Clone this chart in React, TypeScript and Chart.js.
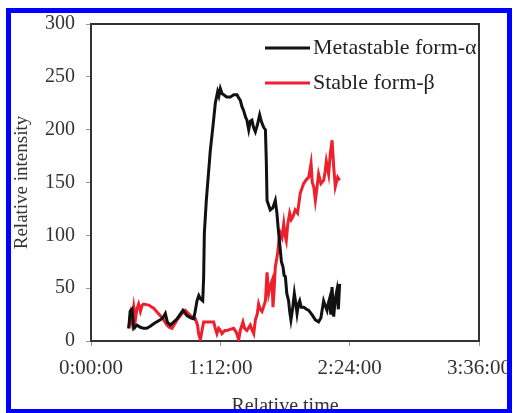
import React, { useEffect, useRef } from "react";
import { Chart, registerables } from "chart.js";

Chart.register(...registerables);

// Time in minutes, values in relative intensity
const alphaTime = [21.0, 21.8, 22.8, 23.8, 25.6, 27.5, 29.3, 31.0, 33.0, 35.5, 38.6, 40.0, 41.4, 42.5, 44.2, 46.0, 47.9, 49.5, 51.2, 53.4, 55.5, 57.2, 58.2, 59.0, 60.0, 60.9, 62.2, 62.7, 63.1, 64.2, 66.4, 68.0, 69.2, 70.5, 71.2, 72.0, 73.0, 73.9, 75.5, 77.6, 79.5, 81.3, 82.2, 83.1, 84.0, 85.0, 86.0, 86.8, 87.8, 88.7, 89.6, 90.5, 91.5, 92.7, 93.9, 94.5, 95.2, 96.2, 97.1, 97.6, 98.0, 99.0, 99.8, 101.2, 102.6, 103.5, 104.3, 105.4, 106.0, 106.9, 107.5, 108.2, 109.0, 110.0, 110.6, 111.3, 112.2, 113.2, 113.8, 114.7, 115.5, 116.2, 117.0, 118.4, 120.0, 121.2, 123.0, 124.9, 126.7, 128.0, 129.5, 130.5, 131.4, 132.0, 132.8, 133.5, 134.2, 135.1, 136.0, 136.9, 137.7, 138.4];
const alphaValue = [12, 28, 30, 12, 15, 13, 12, 12, 14, 17, 20, 22, 26, 18, 15, 18, 21, 25, 29, 24, 22, 21, 30, 38, 43, 40, 38, 60, 102, 133, 180, 205, 225, 236, 232, 239, 234, 233, 231, 231, 233, 233, 230, 228, 222, 218, 212, 209, 200, 208, 209, 202, 198, 205, 214, 210, 206, 202, 200, 170, 133, 128, 124, 126, 133, 121, 105, 86, 75, 70, 62, 61, 45, 38, 28, 20, 30, 45, 38, 26, 35, 38, 32, 32, 30, 29, 25, 20, 18, 22, 38, 33, 29, 35, 40, 25, 51, 23, 40, 48, 30, 54];

const betaTime = [21.0, 22.0, 22.8, 23.8, 24.7, 25.5, 26.5, 27.5, 28.5, 29.3, 32.1, 34.9, 36.5, 38.6, 40.5, 42.3, 43.5, 45.1, 47.9, 50.7, 52.5, 55.3, 58.1, 59.3, 59.9, 60.9, 61.8, 62.7, 65.5, 68.3, 69.2, 70.1, 71.0, 72.0, 72.9, 74.5, 75.7, 77.5, 79.4, 81.0, 82.2, 83.1, 84.6, 85.5, 86.8, 88.7, 89.8, 90.6, 91.5, 92.5, 93.3, 94.2, 95.2, 96.2, 97.1, 98.0, 98.9, 99.8, 100.8, 101.3, 102.0, 102.6, 103.9, 104.6, 105.4, 106.3, 107.3, 108.0, 108.7, 109.5, 110.6, 111.5, 112.5, 113.7, 115.0, 116.5, 118.4, 120.0, 121.2, 122.5, 123.2, 124.0, 124.9, 125.8, 126.7, 128.0, 129.5, 130.3, 131.0, 132.3, 133.2, 134.2, 135.1, 136.0, 137.3, 138.4];
const betaValue = [12, 25, 18, 32, 20, 30, 35, 28, 34, 35, 34, 31, 28, 24, 20, 15, 13, 12, 20, 26, 29, 24, 21, 15, 7, 1, 10, 18, 18, 18, 12, 7, 12, 10, 7, 10, 10, 11, 12, 8, 1, 10, 18, 12, 10, 15, 10, 7, 20, 25, 35, 30, 28, 33, 38, 65, 45, 52, 57, 32, 50, 70, 83, 95, 102, 98, 111, 100, 95, 110, 121, 115, 118, 124, 121, 140, 149, 153, 155, 168, 150, 146, 133, 145, 158, 149, 152, 160, 170, 158, 177, 190, 165, 146, 155, 152];

const seriesLabels = ["Metastable form-\u03b1", "Stable form-\u03b2"];
const xTickMinutes = [0, 72, 144, 216];
const yTicks = [0, 50, 100, 150, 200, 250, 300];

const FONT = "'Liberation Serif', 'Times New Roman', serif";

const fmtTime = (m: number) => {
  const h = Math.floor(m / 60);
  const mm = Math.round(m % 60);
  return `${h}:${String(mm).padStart(2, "0")}:00`;
};

const framePlugin = {
  id: "frameAndLegend",
  afterDatasetsDraw(chart: any) {
    const { ctx, chartArea } = chart;
    ctx.save();
    // top & right frame lines
    ctx.strokeStyle = "#333";
    ctx.lineWidth = 2;
    ctx.beginPath();
    ctx.moveTo(chartArea.left, chartArea.top);
    ctx.lineTo(chartArea.right, chartArea.top);
    ctx.lineTo(chartArea.right, chartArea.bottom);
    ctx.stroke();
    // legend inside plot
    chart.data.datasets.forEach((ds: any, i: number) => {
      const y = chartArea.top + 24 + i * 35;
      const x0 = chartArea.right - 214;
      ctx.strokeStyle = ds.borderColor;
      ctx.lineWidth = 3;
      ctx.beginPath();
      ctx.moveTo(x0, y);
      ctx.lineTo(x0 + 45, y);
      ctx.stroke();
      ctx.fillStyle = "#222";
      ctx.font = `22px ${FONT}`;
      ctx.textAlign = "left";
      ctx.textBaseline = "middle";
      ctx.fillText(ds.label, x0 + 48, y);
    });
    ctx.restore();
  },
};

export default function App() {
  const ref = useRef<HTMLCanvasElement>(null);
  useEffect(() => {
    if (!ref.current) return;
    const chart = new Chart(ref.current, {
      type: "line",
      data: {
        datasets: [
          {
            label: seriesLabels[0],
            data: alphaTime.map((t, i) => ({ x: t, y: alphaValue[i] })),
            borderColor: "#111111",
            borderWidth: 3,
            pointRadius: 0,
            tension: 0,
            fill: false,
          },
          {
            label: seriesLabels[1],
            data: betaTime.map((t, i) => ({ x: t, y: betaValue[i] })),
            borderColor: "rgb(238, 32, 44)",
            borderWidth: 3,
            pointRadius: 0,
            tension: 0,
            fill: false,
          },
        ],
      },
      options: {
        responsive: false,
        animation: false,
        layout: { padding: { left: 8, top: 24, right: 34, bottom: 1 } },
        plugins: { legend: { display: false }, tooltip: { enabled: false } },
        scales: {
          x: {
            type: "linear",
            min: 0,
            max: 216,
            afterFit: (s: any) => { s.height = 78; s.paddingLeft = 0; s.paddingRight = 0; },
            afterBuildTicks: (s: any) => { s.ticks = xTickMinutes.map((v) => ({ value: v })); },
            ticks: {
              callback: (v: any) => fmtTime(Number(v)),
              font: { family: FONT, size: 21 },
              color: "#333",
              padding: 10,
              maxRotation: 0,
              autoSkip: false,
            },
            grid: { display: true, drawOnChartArea: false, drawTicks: true, tickLength: 5, color: "#999" },
            border: { display: true, color: "#333", width: 2 },
            title: {
              display: true,
              text: "Relative time",
              font: { family: FONT, size: 20 },
              color: "#333",
              padding: { top: 0, bottom: 0 },
            },
          },
          y: {
            min: 0,
            max: 300,
            afterFit: (s: any) => { s.width = 83; s.paddingTop = 0; s.paddingBottom = 0; },
            afterBuildTicks: (s: any) => { s.ticks = yTicks.map((v) => ({ value: v })); },
            ticks: {
              font: { family: FONT, size: 20 },
              color: "#333",
              padding: 11,
            },
            grid: { display: true, drawOnChartArea: false, drawTicks: true, tickLength: 5, color: "#999" },
            border: { display: true, color: "#333", width: 2 },
            title: {
              display: true,
              text: "Relative intensity",
              font: { family: FONT, size: 19 },
              color: "#333",
              padding: { top: 3, bottom: 0 },
            },
          },
        },
      },
      plugins: [framePlugin],
    } as any);
    return () => chart.destroy();
  }, []);

  return (
    <div style={{ position: "absolute", left: 0, top: 0, width: 513, height: 413, overflow: "hidden", background: "#fff" }}>
      <canvas ref={ref} width={513} height={420} style={{ position: "absolute", left: 0, top: 0 }} />
      <div
        style={{
          position: "absolute",
          left: 6,
          top: 8,
          width: 506,
          height: 406,
          boxSizing: "border-box",
          border: "5px solid rgb(0, 0, 255)",
          pointerEvents: "none",
        }}
      />
    </div>
  );
}
